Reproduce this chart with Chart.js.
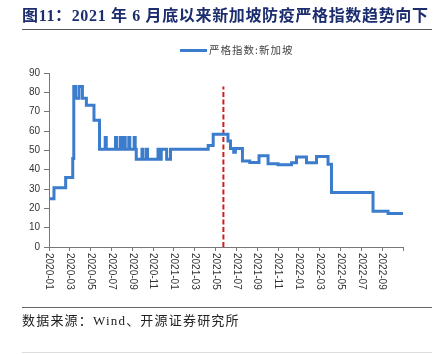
<!DOCTYPE html>
<html><head><meta charset="utf-8">
<script src="https://cdn.jsdelivr.net/npm/chart.js@4"></script>
<style>
html,body{margin:0;padding:0;background:#fff;}
#wrap{position:relative;width:439px;height:354px;overflow:hidden;background:#fff;}
#title{position:absolute;left:22px;top:6px;line-height:20px;font-weight:bold;font-size:16px;font-family:"Liberation Serif","Noto Sans CJK SC",serif;color:#1c2d6e;letter-spacing:0.65px;white-space:nowrap;}
.rule{position:absolute;left:22px;width:410px;height:0;}
#legend{position:absolute;left:180px;top:43px;height:14px;white-space:nowrap;}
#legend .ln{position:absolute;left:0;top:6px;width:27px;height:3px;background:#3b7ccc;}
#legend .tx{position:absolute;left:29px;top:0;line-height:14px;font-size:10.5px;letter-spacing:1px;font-family:"Noto Sans CJK SC",sans-serif;color:#444;}
#source{position:absolute;left:22px;top:313px;line-height:16px;font-size:13px;letter-spacing:1.2px;font-family:"Liberation Serif","Noto Sans CJK SC",serif;color:#222;white-space:nowrap;}
canvas{position:absolute;left:0;top:0;}
</style></head>
<body>
<div id="wrap">
<canvas id="c" width="439" height="354"></canvas>
<div id="title">图11：2021 年 6 月底以来新加坡防疫严格指数趋势向下</div>
<div class="rule" style="top:29px;border-top:1.5px solid #555;"></div>
<div id="legend"><div class="ln"></div><div class="tx">严格指数:新加坡</div></div>
<div class="rule" style="top:307px;border-top:1.5px solid #666;"></div>
<div id="source">数据来源：Wind、开源证券研究所</div>
<div class="rule" style="top:352px;border-top:1px solid #ddd;"></div>
</div>
<script>
// months since 2020-01 at which the index changes, and the new value
const changeMonths = [0, 0.48, 1.60, 2.28, 2.38, 2.55, 2.88, 3.21, 3.59, 4.32, 4.85,
  5.40, 5.50, 6.39, 6.49, 6.84, 6.94, 7.22, 7.32, 7.66, 7.76, 8.18, 8.28, 8.38,
  8.93, 9.03, 9.36, 9.46, 10.47, 10.57, 10.78, 11.30, 11.67,
  15.29, 15.77, 17.19, 17.43, 17.74, 17.90, 18.58, 19.28, 20.17, 21.04, 22.00, 23.29, 23.77,
  24.73, 25.69, 26.80, 27.13, 31.12, 32.57, 34.00];
const indexValues = [25, 30.6, 36, 45.8, 83, 77, 83, 77, 73.3, 65.6, 50.5,
  56.6, 50.5, 56.6, 50.5, 56.6, 50.5, 56.6, 50.5, 56.6, 50.5, 56.6, 50.5, 45.4,
  50.5, 45.4, 50.5, 45.4, 50.5, 45.4, 50.5, 45.4, 50.5,
  52.5, 58.3, 54.8, 51, 49, 51, 44.5, 43.7, 47.2, 43, 42.5, 43.6, 46.5,
  43.6, 46.8, 42.8, 28.2, 18.5, 17.3, 17.3];
const tickLabels = ['2020-01','2020-03','2020-05','2020-07','2020-09','2020-11',
  '2021-01','2021-03','2021-05','2021-07','2021-09','2021-11',
  '2022-01','2022-03','2022-05','2022-07','2022-09'];
const markerMonth = 16.75;   // end of June 2021 marker
const markerTop = 83;
const seriesName = '严格指数:新加坡';

const series = changeMonths.map((m, i) => ({x: m, y: indexValues[i]}));

const xLabelPlugin = {
  id: 'xlabels',
  afterDraw(chart) {
    const xs = chart.scales.x, c = chart.ctx, y0 = chart.chartArea.bottom + 6;
    c.save();
    c.font = '10px "Liberation Sans", Arial, sans-serif';
    c.fillStyle = '#333';
    c.textBaseline = 'middle';
    c.textAlign = 'left';
    tickLabels.forEach((lab, i) => {
      const x = xs.getPixelForValue(i * 2);
      c.save(); c.translate(x, y0); c.rotate(Math.PI / 2); c.fillText(lab, 0, 0); c.restore();
    });
    c.restore();
  }
};

new Chart(document.getElementById('c'), {
  type: 'line',
  data: {datasets: [
    {label: seriesName, data: series, stepped: true, borderColor: '#3b7ccc', borderWidth: 3,
     pointRadius: 0, fill: false},
    {label: 'marker', data: [{x: markerMonth, y: 0}, {x: markerMonth, y: markerTop}],
     borderColor: '#cc1f1f', borderWidth: 2, borderDash: [5, 2.5], pointRadius: 0, fill: false}
  ]},
  options: {
    responsive: false, animation: false,
    layout: {padding: {top: 73, right: 36, left: 0, bottom: 0}},
    plugins: {legend: {display: false}, tooltip: {enabled: false}},
    scales: {
      x: {type: 'linear', min: 0, max: 34,
          ticks: {stepSize: 2, display: false},
          grid: {drawOnChartArea: false, drawTicks: true, tickLength: 4, color: '#777'},
          border: {color: '#777', width: 1},
          afterFit(s) { s.height = 107; }},
      y: {min: 0, max: 90,
          ticks: {stepSize: 10, font: {family: 'Liberation Sans', size: 10}, color: '#333', padding: 4},
          grid: {drawOnChartArea: false, drawTicks: true, tickLength: 5, color: '#777'},
          border: {color: '#777', width: 1},
          afterFit(s) { s.width = 49; }}
    }
  },
  plugins: [xLabelPlugin]
});
</script>
</body></html>
